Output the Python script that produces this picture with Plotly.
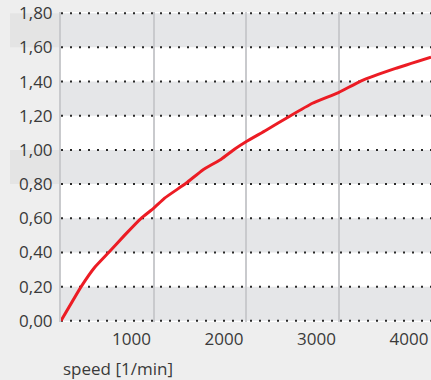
import plotly.graph_objects as go

# Torque curve over motor speed
speed = [0, 218, 363, 525, 686, 866, 1000, 1120, 1355, 1533, 1732, 1875, 2000, 2217,
         2468, 2719, 3000, 3240, 3617, 4000]
torque = [0.0, 0.20, 0.312, 0.405, 0.50, 0.60, 0.658, 0.718, 0.806, 0.883, 0.946,
          1.004, 1.048, 1.115, 1.196, 1.273, 1.335, 1.403, 1.477, 1.543]

y_ticks = [0.0, 0.2, 0.4, 0.6, 0.8, 1.0, 1.2, 1.4, 1.6, 1.8]
y_labels = ["0,00", "0,20", "0,40", "0,60", "0,80", "1,00", "1,20", "1,40", "1,60", "1,80"]
x_ticks = [1000, 2000, 3000, 4000]
x_labels = ["1000", "2000", "3000", "4000"]
x_title = "speed [1/min]"

PAGE = "#eeeeee"
BAND = "#e5e6e8"
FONT = "Open Sans"

fig = go.Figure()
fig.add_trace(go.Scatter(
    x=speed, y=torque, mode="lines",
    line=dict(color="#ec1c24", width=3, shape="spline", smoothing=0.35),
    hoverinfo="skip", showlegend=False,
))

shapes = []
# alternating grey bands in the plot area
for lo in y_ticks[:-1:2]:
    shapes.append(dict(type="rect", xref="paper", yref="y", x0=0, x1=1,
                       y0=lo, y1=lo + 0.2, fillcolor=BAND, line_width=0, layer="below"))
# highlighted label rows
for lo in [0.8, 1.6]:
    shapes.append(dict(type="rect", xref="paper", yref="y", x0=-51 / 370, x1=0,
                       y0=lo, y1=lo + 0.2, fillcolor="#e4e4e4", line_width=0, layer="below"))
# dotted horizontal rules at every tick, including both ends
for v in y_ticks:
    shapes.append(dict(type="line", xref="paper", yref="y", x0=0, x1=1, y0=v, y1=v,
                       line=dict(color="#2a2a2a", width=2, dash="2px,7px"), layer="between"))

fig.update_layout(
    width=431, height=380,
    margin=dict(l=61, r=0, t=12, b=58),
    paper_bgcolor=PAGE, plot_bgcolor="white",
    font=dict(family=FONT, size=17, color="#3a3a3a"),
    shapes=shapes,
    xaxis=dict(
        range=[0, 4000], tickvals=x_ticks, ticktext=x_labels,
        showgrid=True, gridcolor="#c9cacd", gridwidth=2,
        zeroline=False, showline=False, ticks="",
        ticklabelshift=-22, ticklabelstandoff=5,
        tickfont=dict(size=17),
    ),
    yaxis=dict(
        range=[-0.007, 1.807], tickvals=y_ticks, ticktext=y_labels,
        showgrid=False, zeroline=False,
        showline=True, linecolor="#c9cacd", linewidth=2,
        ticks="", ticklabelstandoff=3,
        tickfont=dict(size=17),
    ),
    annotations=[dict(
        text=x_title, xref="paper", yref="paper", x=0, y=0,
        xanchor="left", yanchor="top", yshift=-33, showarrow=False,
        font=dict(family=FONT, size=17, color="#3a3a3a"),
    )],
)

fig.write_html("out.html")
